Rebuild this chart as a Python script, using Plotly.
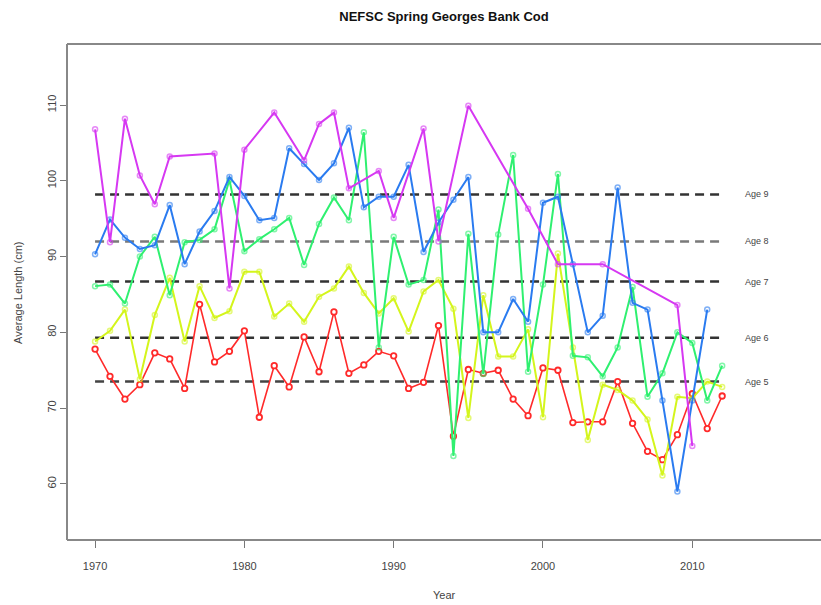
import plotly.graph_objects as go

# average length (cm) by age, NEFSC spring survey, Georges Bank cod
years_age5 = list(range(1970, 2013))
age5 = [77.8, 74.2, 71.2, 73.1, 77.3, 76.5, 72.6, 83.7, 76.1, 77.5,
        80.2, 68.8, 75.6, 72.8, 79.4, 74.8, 82.7, 74.6, 75.7, 77.5,
        76.9, 72.6, 73.4, 80.9, 66.3, 75.1, 74.6, 75.0, 71.2, 69.0,
        75.3, 75.0, 68.1, 68.2, 68.2, 73.5, 68.0, 64.3, 63.2, 66.5,
        71.9, 67.3, 71.6]

years_age6 = list(range(1970, 2013))
age6 = [78.8, 80.2, 83.0, 73.8, 82.3, 87.2, 78.8, 86.1, 81.9, 82.8,
        88.0, 88.0, 82.1, 83.8, 81.4, 84.7, 85.8, 88.7, 85.2, 82.5,
        84.5, 80.1, 85.4, 86.9, 83.1, 68.7, 84.9, 76.8, 76.8, 80.4,
        68.8, 90.4, 78.0, 65.8, 73.1, 72.4, 71.0, 68.5, 61.1, 71.5,
        71.3, 73.5, 72.8]

years_age7 = list(range(1970, 2013))
age7 = [86.1, 86.3, 83.8, 90.0, 92.6, 84.9, 91.9, 92.2, 93.6, 100.1,
        90.7, 92.3, 93.6, 95.1, 88.9, 94.3, 97.8, 94.8, 106.4, 78.0,
        92.6, 86.3, 86.9, 96.2, 63.7, 93.0, 74.5, 92.9, 103.4, 74.8,
        86.3, 100.9, 76.9, 76.7, 74.2, 78.0, 86.0, 71.5, 74.6, 80.0,
        78.6, 71.0, 75.6]

years_age8 = list(range(1970, 2012))
age8 = [90.3, 94.9, 92.5, 91.0, 91.5, 96.8, 89.0, 93.3, 96.0, 100.5,
        98.0, 94.8, 95.1, 104.3, 102.2, 100.1, 102.3, 107.0, 96.5, 97.9,
        97.9, 102.1, 90.6, 94.5, 97.5, 100.5, 80.0, 80.0, 84.4, 81.4,
        97.1, 97.9, 89.0, 80.0, 82.2, 99.1, 83.9, 83.0, 71.0, 59.0,
        71.0, 83.0]

years_age9 = [1970, 1971, 1972, 1973, 1974, 1975, 1978, 1979, 1980, 1982,
              1984, 1985, 1986, 1987, 1989, 1990, 1992, 1993, 1995, 1999,
              2001, 2004, 2009, 2010]
age9 = [106.8, 91.9, 108.2, 100.7, 96.9, 103.2, 103.6, 85.8, 104.1, 109.0,
        102.7, 107.5, 109.0, 99.0, 101.3, 95.1, 106.9, 92.0, 109.9, 96.3,
        89.0, 89.0, 83.6, 65.0]

mean_labels = ["Age 9", "Age 8", "Age 7", "Age 6", "Age 5"]
mean_values = [98.2, 92.0, 86.7, 79.3, 73.5]
mean_years = [1970, 2012]

fig = go.Figure()

# long-term means
mean_colors = ["#333333", "#7a7a7a", "#333333", "#333333", "#444444"]
for lab, val, col in zip(mean_labels, mean_values, mean_colors):
    fig.add_trace(go.Scatter(
        x=mean_years, y=[val, val], mode="lines",
        line=dict(color=col, width=2.5, dash="9px,6px"),
        showlegend=False, hoverinfo="skip",
    ))
    fig.add_annotation(
        x=2013.4, y=val, text=lab, xanchor="left", showarrow=False,
        font=dict(size=9, color="#444444", family="Liberation Sans, Arial"),
    )

fig.add_trace(go.Scatter(
    x=years_age5, y=age5, mode="lines+markers", name="Age 5",
    line=dict(color="#ff2a2a", width=1.6),
    marker=dict(symbol="circle", size=5.5, color="white",
                line=dict(color="#ff2a2a", width=1.8)),
))

series = [
    (years_age6, age6, "#d4f51c", "Age 6"),
    (years_age7, age7, "#2ff070", "Age 7"),
    (years_age8, age8, "#2a7bf0", "Age 8"),
    (years_age9, age9, "#d638f2", "Age 9"),
]
for xs, ys, col, nm in series:
    fig.add_trace(go.Scatter(
        x=xs, y=ys, mode="lines+markers", name=nm,
        line=dict(color=col, width=2),
        marker=dict(symbol="circle-open", size=5,
                    line=dict(color=col, width=1.5), opacity=0.6),
    ))

# box (left, top, bottom) like R's bty, right side runs off the page
box = dict(color="#888888", width=2)
fig.add_shape(type="line", xref="paper", yref="paper", x0=0, x1=0, y0=0, y1=1, line=box)
fig.add_shape(type="line", xref="paper", yref="paper", x0=0, x1=1.05, y0=1, y1=1, line=box)
fig.add_shape(type="line", xref="paper", yref="paper", x0=0, x1=1.05, y0=0, y1=0, line=box)

axis_font = dict(family="Liberation Sans, Arial", size=11, color="#444444")

# axis titles placed as annotations (R-style positions)
fig.add_annotation(x=0.5, y=-0.111, xref="paper", yref="paper", text="Year",
                   showarrow=False, yanchor="middle", font=axis_font)
fig.add_annotation(x=-0.065, y=0.5, xref="paper", yref="paper",
                   text="Average Length (cm)", textangle=-90,
                   showarrow=False, xanchor="center", font=axis_font)

fig.update_layout(
    width=821, height=605,
    margin=dict(l=67, r=0, t=44, b=65),
    paper_bgcolor="white", plot_bgcolor="white",
    showlegend=False,
    font=axis_font,
    title=dict(
        text="<b>NEFSC Spring Georges Bank Cod</b>",
        x=0.5, xref="paper", xanchor="center", y=0.973, yanchor="middle",
        font=dict(family="Liberation Sans, Arial", size=13, color="#111111"),
    ),
    xaxis=dict(
        range=[1968.12, 2018.62], showgrid=False, zeroline=False, showline=False,
        automargin=False,
        tickmode="array", tickvals=[1970, 1980, 1990, 2000, 2010],
        ticks="outside", ticklen=7, tickcolor="#777777", tickwidth=1,
        ticklabelstandoff=9,
    ),
    yaxis=dict(
        range=[52.6, 118.05], showgrid=False, zeroline=False, showline=False,
        automargin=False,
        tickmode="array", tickvals=[60, 70, 80, 90, 100, 110],
        ticks="outside", ticklen=6, tickcolor="#777777", tickwidth=1,
        tickangle=-90,
    ),
)

fig.write_html("out.html", config={"displayModeBar": False},
               post_script="document.body.style.margin='0';")
